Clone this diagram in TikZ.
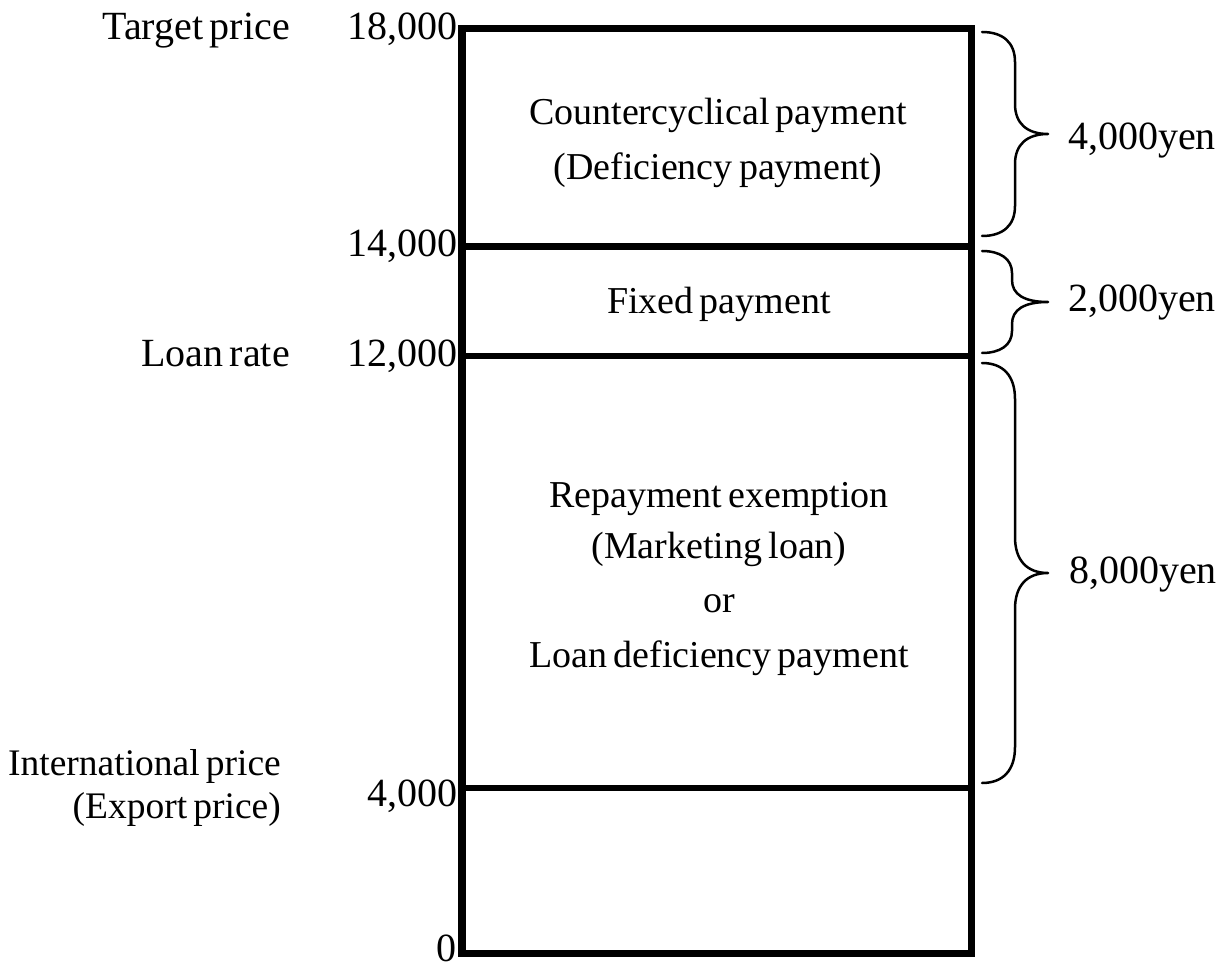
\documentclass[tikz,border=0pt]{standalone}
\usepackage{fontspec}
\setmainfont{Liberation Serif}[WordSpace=0.65]
\begin{document}
\begin{tikzpicture}[x=1pt,y=-1pt,
  outer/.style={inner sep=0pt, font=\fontsize{40}{48}\selectfont},
  inbox/.style={inner sep=0pt, font=\fontsize{38}{46}\selectfont, anchor=base},
  frame/.style={line width=7.5pt, line join=miter},
  divider/.style={line width=6.5pt},
  brc/.style={line width=2.5pt, line cap=round, line join=round}]
\useasboundingbox (0,0) rectangle (1227,968);

% frame and dividers
\coordinate (tl) at (462,28.5);
\coordinate (br) at (971.5,953.5);
\coordinate (l14) at (462,246.5);  \coordinate (r14) at (971.5,246.5);
\coordinate (l12) at (462,356);    \coordinate (r12) at (971.5,356);
\coordinate (l4)  at (462,788);    \coordinate (r4)  at (971.5,788);
\draw[frame] (tl) rectangle (br);
\draw[divider] (l14) -- (r14);
\draw[divider] (l12) -- (r12);
\draw[divider] (l4) -- (r4);

% left labels
\node[outer, anchor=base east] (n18) at (458,40) {18,000};
\node[outer, anchor=base east] (n14) at (458,257) {14,000};
\node[outer, anchor=base east] (n12) at (458,367) {12,000};
\node[outer, anchor=base east] (n4)  at (458,806) {4,000};
\node[outer, anchor=base east] (n0)  at (457,961) {0};
\node[outer, anchor=base east] (tp) at (290,40) {Target price};
\node[outer, anchor=base east] (lr) at (290,367) {Loan rate};
\node[outer, anchor=base east, font=\fontsize{37.5}{46}\selectfont] (ip) at (281,775) {International price};
\node[outer, anchor=base east, font=\fontsize{37.5}{46}\selectfont] (ep) at (281,818) {(Export price)};

% box texts
\node[inbox] (cc1) at (718,125) {Countercyclical payment};
\node[inbox] (cc2) at (718,180) {(Deficiency payment)};
\node[inbox] (fx)  at (719,314) {Fixed payment};
\node[inbox] (re1) at (719,507) {Repayment exemption};
\node[inbox] (re2) at (719,558) {(Marketing loan)};
\node[inbox] (re3) at (719,612) {or};
\node[inbox] (re4) at (719,667) {Loan deficiency payment};

% braces
\newcommand{\mybrace}[5]{% top, tip, bottom, curl, xvert
  \draw[brc] (982,#1) .. controls ({#5-12},#1) and (#5,{#1+0.35*#4}) .. (#5,{#1+#4})
    -- (#5,{#2-#4}) .. controls (#5,{#2-0.35*#4}) and ({#5+12},#2) .. (1048,#2)
    .. controls ({#5+12},#2) and (#5,{#2+0.35*#4}) .. (#5,{#2+#4})
    -- (#5,{#3-#4}) .. controls (#5,{#3-0.35*#4}) and ({#5-12},#3) .. (982,#3);}
\mybrace{32}{134}{236}{30}{1015}
\mybrace{251}{302}{353}{22}{1012}
\mybrace{363}{573}{783}{36}{1015}

% right labels
\node[outer, anchor=base west] (y4) at (1068,150) {4,000yen};
\node[outer, anchor=base west] (y2) at (1068,312) {2,000yen};
\node[outer, anchor=base west] (y8) at (1069,583) {8,000yen};
\end{tikzpicture}
\end{document}
